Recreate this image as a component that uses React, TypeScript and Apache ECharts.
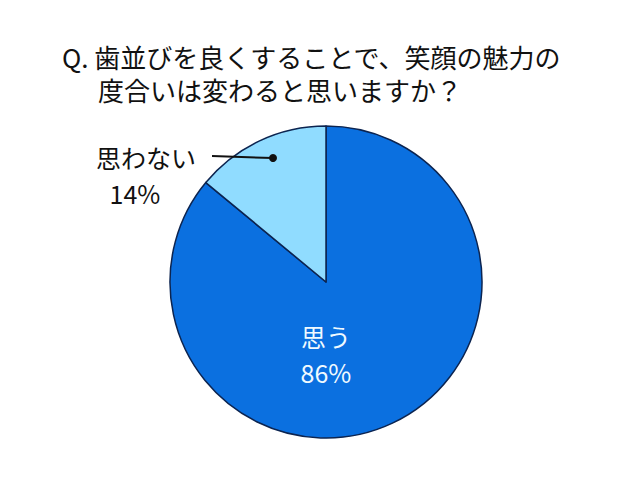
import React, { useEffect, useRef } from 'react';
import * as echarts from 'echarts';

// 回答の種類と割合（%）
const answerNames = ['思う', '思わない'];
const answerValues = [86, 14];
const answerColors = ['#0b70e0', '#90dcff'];

const titleLine1 = 'Q. 歯並びを良くすることで、笑顔の魅力の';
const titleLine2 = '度合いは変わると思いますか？';

const FONT = '"Noto Sans CJK JP", "Noto Sans", sans-serif';
const CENTER: [number, number] = [326, 282];
const RADIUS = 156;

const App = () => {
    const chartRef = useRef<HTMLDivElement>(null);

    useEffect(() => {
        document.body.style.margin = '0';
        if (!chartRef.current) return;
        const myChart = echarts.init(chartRef.current, null, { renderer: 'svg' });

        const pieData: any[] = answerNames.map((name, i) => ({
            name: name,
            value: answerValues[i],
            itemStyle: { color: answerColors[i] },
        }));
        // 「思う」のラベルだけ白文字にする
        pieData[0].label = { color: '#f0faff', formatter: '{a|{b}}\n{a|{c}%}' };

        const option = {
            animation: false,
            backgroundColor: '#ffffff',
            title: {
                text: '{l1|' + titleLine1 + '}\n{l2|' + titleLine2 + '}',
                left: 62,
                top: 40,
                padding: 0,
                textStyle: {
                    fontFamily: FONT,
                    fontSize: 26,
                    fontWeight: 'normal',
                    color: '#111111',
                    rich: {
                        l1: { fontFamily: FONT, fontSize: 26, lineHeight: 33, color: '#111111' },
                        l2: { fontFamily: FONT, fontSize: 26, lineHeight: 33, color: '#111111', padding: [0, 0, 0, 36] },
                    },
                },
            },
            series: [
                {
                    type: 'pie',
                    center: CENTER,
                    radius: RADIUS,
                    startAngle: 90,
                    clockwise: true,
                    data: pieData,
                    itemStyle: { borderColor: '#0c2450', borderWidth: 1.5 },
                    label: {
                        show: true,
                        position: 'inside',
                        formatter: '{a|{b}}\n{p|{c}%}',
                        fontFamily: FONT,
                        fontSize: 25,
                        color: '#111111',
                        rich: {
                            a: { fontFamily: FONT, fontSize: 25, lineHeight: 36 },
                            p: { fontFamily: FONT, fontSize: 25, lineHeight: 36, padding: [0, 22, 0, 0] },
                        },
                    },
                    labelLine: { show: false },
                    labelLayout: (params: any) => {
                        if (params.dataIndex === 0) {
                            return { x: CENTER[0], y: 354, align: 'center', verticalAlign: 'middle' };
                        }
                        return { x: 146, y: 175, align: 'center', verticalAlign: 'middle' };
                    },
                    emphasis: { disabled: true },
                },
            ],
            graphic: [
                {
                    type: 'line',
                    z: 100,
                    shape: { x1: 212, y1: 156, x2: 273, y2: 158 },
                    style: { stroke: '#111111', lineWidth: 2 },
                },
                {
                    type: 'circle',
                    z: 100,
                    shape: { cx: 273, cy: 158, r: 4 },
                    style: { fill: '#111111' },
                },
            ],
        };

        myChart.setOption(option as any);

        return () => {
            myChart.dispose();
        };
    }, []);

    return <div ref={chartRef} style={{ width: 640, height: 480 }}></div>;
};

export default App;
